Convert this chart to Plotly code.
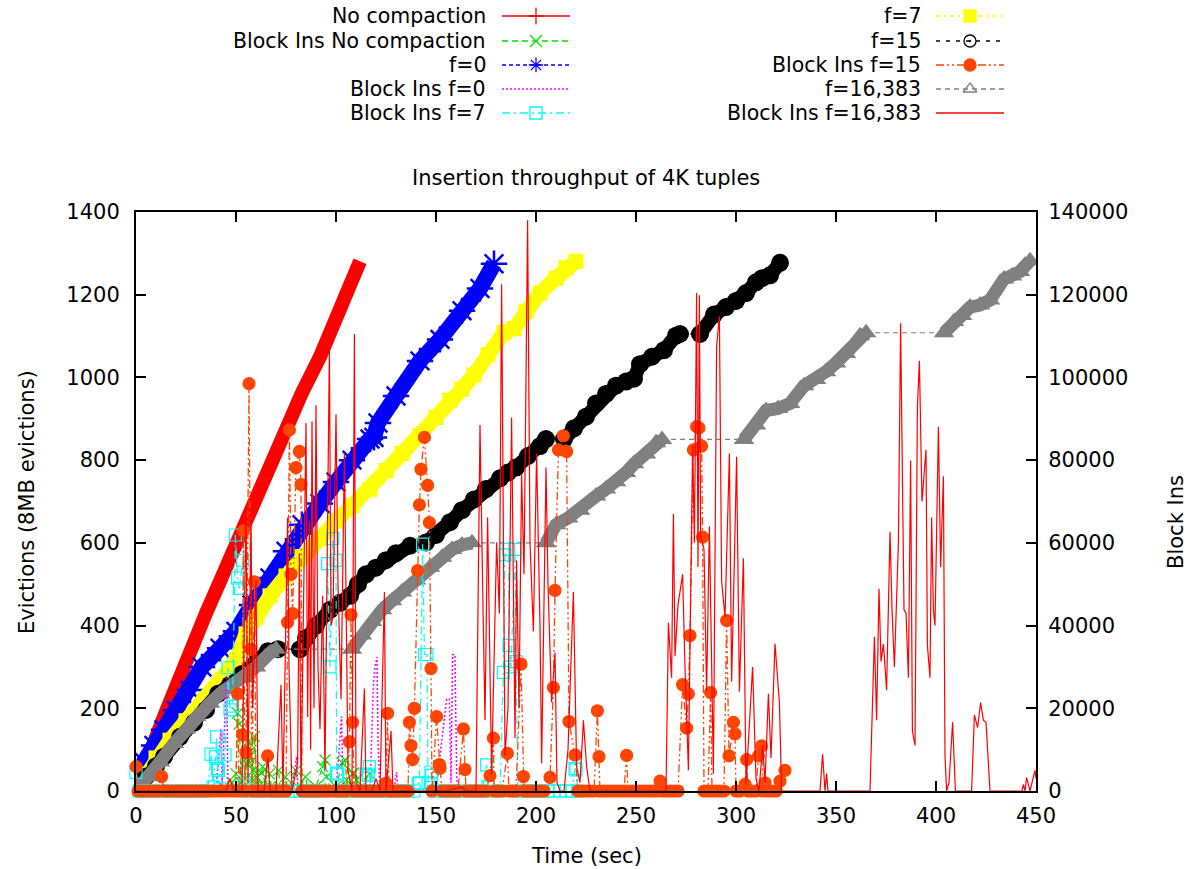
import plotly.graph_objects as go

# ---------------- data ----------------
# Evictions (left axis) : (time sec, evictions)
NO_COMPACTION = [(0, 5), (2, 35), (5, 70), (10, 130), (15, 192), (20, 255), (25, 317), (30, 375),
                 (35, 430), (42, 507), (50, 600), (57, 679), (62, 730), (67, 782), (75, 875),
                 (83, 963), (92, 1050), (100, 1135), (106, 1210), (112, 1281)]

F0 = [(0, 0), (4, 70), (9, 110), (14, 148), (20, 195), (27, 244), (33, 300), (42, 345), (50, 386),
      (58, 450), (67, 515), (75, 580), (83, 644), (92, 695), (100, 747), (108, 800), (117, 851),
      (119, 855), (121, 890), (130, 955), (142, 1040), (152, 1092), (163, 1161), (172, 1215), (179, 1275)]

F7 = [(0, 0), (5, 40), (10, 80), (17, 123), (25, 170), (34, 220), (42, 265), (50, 317), (55, 380),
      (60, 420), (67, 472), (75, 520), (83, 567), (92, 610), (100, 653), (108, 690), (117, 730),
      (125, 775), (133, 816), (142, 860), (150, 903), (157, 945), (163, 972), (169, 1006), (176, 1055),
      (184, 1109), (189, 1118), (195, 1160), (202, 1204), (210, 1240), (215, 1265), (220, 1281)]

F15 = [(0, 0), (5, 35), (10, 60), (14, 83), (22, 131), (29, 165), (35, 196), (41, 235), (47, 257),
       (53, 283), (60, 310), (66, 338), (71, 343), (None, None),
       (82, 343), (85, 370), (90, 400), (97, 438), (102, 455), (107, 472), (111, 500), (115, 524),
       (120, 540), (125, 558), (130, 575), (137, 593), (None, None),
       (145, 601), (150, 619), (157, 650), (163, 679), (169, 705), (175, 730), (182, 756), (186, 770),
       (190, 782), (196, 810), (202, 834), (205, 851), (None, None),
       (214, 851), (219, 877), (225, 905), (230, 937), (235, 960), (240, 980), (245, 990), (249, 997),
       (252, 1032), (258, 1050), (264, 1066), (270, 1101), (272, 1105), (None, None),
       (282, 1105), (289, 1152), (295, 1170), (300, 1185), (305, 1204), (310, 1230), (313, 1240),
       (317, 1247), (322, 1277)]

F16383 = [(0, 0), (3, 15), (7, 35), (12, 70), (19, 115), (25, 150), (30, 180), (37, 212), (42, 235),
          (47, 252), (55, 274), (60, 300), (67, 334), (70, 343), (None, None),
          (108, 343), (113, 377), (118, 410), (123, 438), (128, 460), (133, 481), (140, 510), (147, 541),
          (153, 565), (158, 584), (163, 595), (168, 600), (None, None),
          (205, 600), (210, 644), (216, 660), (222, 679), (230, 713), (235, 730), (240, 748), (245, 770),
          (249, 791), (255, 815), (260, 842), (263, 850), (None, None),
          (304, 850), (310, 885), (315, 920), (321, 925), (327, 937), (334, 980), (340, 995), (345, 1014),
          (350, 1035), (355, 1058), (362, 1101), (365, 1108), (None, None),
          (404, 1108), (409, 1135), (413, 1150), (417, 1170), (422, 1175), (427, 1187), (434, 1238),
          (438, 1245), (442, 1256), (447, 1282)]

# Block Ins (right axis) : (time sec, block ins)
BI_NO_COMPACTION = [(0, 0), (10, 0), (20, 0), (30, 0), (40, 0), (44, 1000), (46, 0), (48, 2000), (50, 4150),
                    (50.8, 18800), (51.7, 16200), (52.5, 2000), (53.7, 13100), (54.5, 3000), (55.3, 6700),
                    (56.7, 6700), (57, 11500), (58, 3000), (58.7, 5000), (59.2, 13200), (60.3, 3400), (61, 1000),
                    (62.8, 4300), (63.3, 5900), (64.5, 1000), (66.7, 4150), (68, 500), (71.3, 5000), (72, 1000),
                    (74.7, 3400), (76, 500), (80, 5000), (81, 1000), (84.7, 3400), (86, 500), (90, 1000),
                    (93.3, 5900), (94.5, 7500), (95.3, 3400), (97, 500), (100, 1000), (103.3, 6700),
                    (104.5, 7500), (105.3, 2700), (106, 1000), (108.3, 4150), (108.7, 4300), (110.3, 2700),
                    (112, 500), (116.7, 4150), (118, 0), (125, 0)]

BI_F0 = [(0, 0), (20, 0), (40, 0), (42.5, 15000), (43, 500), (44.8, 22700), (45.3, 27300), (46, 1000), (48, 0),
         (60, 0), (78, 0), (80.3, 8300), (81, 0), (100, 0), (102.8, 18000), (103.5, 0), (117, 0),
         (118.7, 26000), (119.5, 30000), (120.5, 32400), (121, 12000), (122, 0), (129, 0), (130.3, 4600),
         (131, 0), (150, 0), (155.3, 22200), (156.7, 22200), (157.5, 2000), (158.3, 33000), (159.5, 32900),
         (160.3, 4000), (161, 0), (180, 1000), (190, 0), (200, 0)]

BI_F7 = [(0, 4500), (1.5, 0), (3, 0), (6, 0), (9, 0), (12, 0), (15, 0), (18, 0), (21, 0), (24, 0), (27, 0),
         (30, 0), (33, 0), (36, 0), (37.5, 8900), (38.5, 1000), (39.8, 8300), (40.3, 13100), (40.8, 5400),
         (41.2, 5000), (42, 500), (44.5, 8700), (46, 29800), (47, 19600), (48.3, 20500), (49.7, 61900),
         (50.8, 51500), (51.7, 49000), (53.3, 55800), (54, 2000), (55, 0), (58, 0), (61, 0), (64, 0),
         (67, 0), (70, 0), (73, 0), (76, 0), (79, 0), (82, 0), (85, 0), (88, 0), (91, 0), (94, 0),
         (95.8, 55000), (97, 30000), (98.3, 61000), (100, 55800), (100.3, 4300), (100.8, 4100), (102, 0),
         (105, 0), (108, 0), (111, 0), (114, 0), (115, 4100), (116.2, 3800), (116.7, 5900), (118, 0),
         (121, 0), (124, 0), (127, 0), (130, 0), (133, 0), (136, 0), (139, 0), (141.2, 1800), (141.7, 2000),
         (143.3, 59700), (144.2, 33000), (145.5, 33000), (146, 2000), (147.5, 4600), (147.8, 3800),
         (149, 0), (152, 0), (155, 0), (158, 0), (161, 0), (164, 0), (167, 0), (170, 0), (173, 0),
         (175.3, 6300), (176, 1000), (179, 0), (182, 0), (183.7, 28700), (184.5, 57100), (186.2, 58400),
         (186.5, 35200), (187.5, 30000), (189.5, 58400), (190, 31300), (191, 0), (194, 0), (197, 0),
         (200, 0), (203, 0), (206, 0), (209, 0), (212, 0), (215, 0), (218, 0), (219.5, 5400), (220, 5100),
         (221, 0)]

BI_F15 = [(0, 5900), (1, 0), (3, 0), (5, 0), (7, 0), (9, 0), (11, 0), (12.8, 3500), (14, 0), (16, 0), (18, 0),
          (20, 0), (22, 0), (24, 0), (26, 0), (28, 0), (30, 0), (32, 0), (34, 0), (36, 0), (38, 0), (40, 0),
          (42, 0), (44, 0), (46, 0), (48, 0), (50, 0), (50.8, 23500), (51.5, 0), (53.3, 13600), (53.7, 62900),
          (54.5, 0), (55, 9300), (56.5, 98500), (57.5, 34300), (58, 0), (59.2, 50600), (60, 0), (62, 0),
          (64, 0), (65.8, 8500), (67, 0), (69, 0), (71, 0), (73, 0), (75, 0), (75.8, 40800), (76.7, 87300),
          (77.5, 52400), (78.3, 42900), (80, 78200), (81.7, 82100), (82.5, 74100), (83, 0), (85, 0), (87, 0),
          (89, 0), (91, 0), (93, 0), (95, 0), (97, 0), (99, 0), (101, 0), (103, 0), (105, 0), (106.7, 11900),
          (107.5, 42600), (108.3, 16600), (109, 0), (111, 0), (113, 0), (115, 0), (117, 0), (119, 0),
          (121, 0), (123, 0), (125, 1900), (125.8, 18800), (126.5, 0), (128, 0), (130, 0), (132, 0),
          (134, 0), (136, 0), (136.7, 16600), (137.5, 11000), (138.3, 7600), (139.2, 20000), (140.8, 53300),
          (141.7, 69200), (142.5, 77800), (144.2, 85500), (145.8, 73900), (146.7, 64900), (147.5, 29600),
          (148, 0), (150.3, 18000), (151.7, 6400), (152, 5500), (153, 0), (155, 0), (157, 0), (159, 0),
          (161, 0), (163.7, 15000), (164.5, 5200), (165, 0), (167, 0), (169, 0), (171, 0), (173, 0),
          (175, 0), (177, 3700), (178.7, 12800), (179, 0), (181, 0), (183, 0), (185.7, 9100), (186.5, 0),
          (188, 0), (190, 0), (192.5, 30700), (193.7, 3500), (194, 0), (196, 0), (198, 0), (200, 0),
          (202, 0), (204, 0), (207, 3300), (208.7, 25000), (209.5, 48500), (211.2, 82500), (213.7, 85900),
          (215.3, 82100), (216.5, 16800), (219.5, 8700), (221, 0), (223, 0), (225, 0), (227, 0), (229, 0),
          (230.7, 19400), (231.5, 8300), (232, 0), (234, 0), (236, 0), (238, 0), (240, 0), (242, 0),
          (244, 0), (245.3, 8600), (246, 0), (248, 0), (250, 0), (252, 0), (254, 0), (256, 0), (258, 0),
          (260, 0), (262, 2400), (263, 0), (265, 0), (267, 0), (269, 0), (271, 0), (273.3, 25700),
          (275.3, 15200), (276.2, 23500), (277, 37600), (278.7, 82500), (280.3, 88100), (281.5, 87800),
          (282.8, 83400), (283.3, 61400), (284, 0), (286, 0), (287.3, 23800), (288, 0), (290, 0), (292, 0),
          (294, 0), (295.3, 41200), (296.5, 8500), (298.7, 16600), (299.5, 13800), (300, 0), (302, 0),
          (304.5, 1600), (305.3, 7600), (306, 0), (308, 0), (310, 0), (311.2, 8500), (312.8, 10900),
          (313.5, 0), (314.5, 2000), (316, 0), (318, 0), (320, 0), (322, 2400), (324.5, 5000)]

BI_F16383 = [(0, 0), (5, 0), (10, 0), (15, 0), (20, 0), (25, 0), (30, 0), (35, 0), (40, 0), (45, 0), (47, 3000),
             (49, 0), (53, 0), (55, 69000), (56, 2000), (57.5, 67000), (58.3, 20000), (60, 51000), (61, 0),
             (64, 0), (66, 8000), (67, 0), (70, 0), (72.5, 25700), (73.5, 0), (75.8, 66100), (76.5, 30000),
             (78, 0), (80.8, 6700), (81.7, 57500), (82.5, 0), (85, 89000), (85.8, 17900), (86.7, 65300),
             (87.3, 10000), (88, 89400), (89, 20000), (90, 93300), (91, 30000), (92, 15000), (93.3, 47200),
             (94.5, 5000), (96.7, 107500), (97.5, 40000), (98.5, 42000), (100, 91100), (101, 50000),
             (102.5, 22200), (104.2, 81700), (105, 47000), (106, 5000), (108, 0), (109.2, 110500),
             (110, 2000), (112, 0), (114.2, 24800), (115, 0), (118, 0), (120, 3000), (122, 0),
             (124.2, 48100), (125, 0), (127.5, 14500), (128.5, 0), (135, 0), (145, 0), (155, 0),
             (163, 1000), (165, 0), (170, 0), (172, 88500), (173.7, 38600), (174.5, 17100), (175.8, 66100),
             (177, 30000), (177.8, 4150), (180.3, 60100), (181.7, 42900), (182.8, 122500), (184.5, 8500),
             (186, 20000), (187.8, 90300), (189.5, 12800), (190.3, 55800), (191.5, 20000), (192.8, 76500),
             (194, 52400), (195.8, 138000), (197, 60000), (198.7, 38600), (200.3, 81600), (202, 40000),
             (202.8, 6700), (205, 78200), (206, 50000), (207.8, 21400), (209.5, 33400), (210.5, 2000),
             (212, 0), (214, 0), (216, 10000), (218.7, 48100), (220.3, 5900), (222, 2000), (223.7, 17100),
             (225.3, 5900), (227, 0), (235, 0), (245, 0), (255, 0), (265, 0), (266.2, 40700),
             (267.8, 27400), (268.7, 67000), (269.5, 32600), (271, 45000), (273.3, 52400), (274.5, 30000),
             (276.2, 5000), (278.3, 83400), (279.2, 60000), (280.3, 120400), (281, 54100), (281.7, 119900),
             (282.3, 61800), (284, 58400), (285.3, 24000), (286.7, 64000), (288.7, 4200), (290.3, 107500),
             (291.7, 114800), (292.8, 50700), (294.5, 42000), (296.7, 81600), (297.8, 26500), (299, 51900),
             (300.3, 80800), (301.7, 24000), (303.7, 56300), (305, 1600), (306.5, 15000), (308.3, 30000),
             (310, 3000), (311.5, 0), (313.3, 11000), (314.5, 2000), (316.2, 23500), (317.5, 8000),
             (319.5, 35600), (321.7, 21400), (322.8, 0), (330, 0), (340, 0), (342, 0), (343.3, 8900),
             (344.5, 0), (345.3, 4200), (346, 0), (355, 0), (367, 0), (369.2, 37300), (370.3, 17100),
             (371.5, 48900), (372.5, 31300), (373.7, 35600), (375.3, 24400), (377, 62700), (378, 44000),
             (379.2, 30000), (381.2, 60100), (382.3, 113100), (383.3, 70000), (384, 43800), (385, 43000),
             (386.2, 27400), (387.3, 79900), (388.2, 14500), (389.5, 11000), (390.7, 92800), (391.7, 104000),
             (393, 70000), (395, 82500), (395.7, 35200), (397, 27400), (397.8, 66100), (398.7, 43800),
             (399.5, 40000), (401.2, 88100), (402.3, 54100), (403.7, 76100), (404.5, 8500), (405.3, 0),
             (406.5, 2000), (408.3, 16600), (409.7, 0), (417.8, 0), (419.2, 18400), (420.8, 15300),
             (422.3, 21400), (423.7, 17100), (425, 16600), (427, 0), (435, 0), (443, 0), (443.7, 1600),
             (444.5, 0), (445.3, 3300), (447, 0), (449.5, 5000), (450, 3000)]

X_TICKS = [0, 50, 100, 150, 200, 250, 300, 350, 400, 450]
Y_TICKS = [0, 200, 400, 600, 800, 1000, 1200, 1400]
Y2_TICKS = [0, 20000, 40000, 60000, 80000, 100000, 120000, 140000]

TITLE = "Insertion throughput of 4K tuples"
X_LABEL = "Time (sec)"
Y_LABEL = "Evictions (8MB evictions)"
Y2_LABEL = "Block Ins"

# ---------------- styling / layout constants ----------------
W, H = 1192, 869
PL, PR, PT, PB = 136, 1036, 212, 791
FONT = "DejaVu Sans, Liberation Sans, Arial, sans-serif"
FS = 21
FS_KEY = 20.5

RED, GREEN, BLUE, MAGENTA, CYAN = "#ff0000", "#00e000", "#0000ff", "#ff00ff", "#00ffff"
YELLOW, BLACK, ORANGE, GRAY = "#ffff00", "#000000", "#ff4500", "#808080"


def xy(pairs):
    return [p[0] for p in pairs], [p[1] for p in pairs]


fig = go.Figure()


def band(pairs, color, width, symbol=None, msize=0, conn_dash="4px,4px", mline=0):
    # thin dashed connector across gaps in the data
    ct, cv = [], []
    for i, p in enumerate(pairs):
        if p[0] is None:
            ct += [pairs[i - 1][0], pairs[i + 1][0], None]
            cv += [pairs[i - 1][1], pairs[i + 1][1], None]
    if ct:
        fig.add_trace(go.Scatter(x=ct, y=cv, mode="lines", xaxis="x", yaxis="y",
                                 line=dict(color=color, width=1.2, dash=conn_dash),
                                 hoverinfo="skip", showlegend=False))
    t, v = xy(pairs)
    fig.add_trace(go.Scatter(x=t, y=v, mode="lines+markers" if symbol else "lines",
                             xaxis="x", yaxis="y", connectgaps=False,
                             line=dict(color=color, width=width),
                             marker=dict(symbol=symbol or "circle", size=msize, color=color,
                                         line=dict(width=mline, color=color)),
                             showlegend=False))


def block(pairs, color, dash, width=1.2, symbol=None, msize=0, clip=True):
    t, v = xy(pairs)
    mk = dict(symbol=symbol or "circle", size=msize, color=color, line=dict(width=1.2, color=color))
    fig.add_trace(go.Scatter(x=t, y=v, mode="lines+markers" if symbol else "lines",
                             xaxis="x", yaxis="y2", cliponaxis=clip,
                             line=dict(color=color, width=width, dash=dash),
                             marker=mk, showlegend=False))


# plotting order as in the original
band(NO_COMPACTION, RED, 14)
block(BI_NO_COMPACTION, GREEN, "6px,4px", symbol="x-thin-open", msize=11)
band(F0, BLUE, 16, symbol="asterisk-open", msize=22, mline=2.5)
block(BI_F0, MAGENTA, "2px,2px", width=1.5)
block(BI_F7, CYAN, "8px,4px,2px,4px", symbol="square-open", msize=12, clip=False)
band(F7, YELLOW, 15, symbol="square", msize=15, conn_dash="4px,4px,2px,4px")
band(F15, BLACK, 14, symbol="circle", msize=18, conn_dash="4px,6px")
block(BI_F15, ORANGE, "8px,3px,2px,3px,2px,3px", width=1.3, symbol="circle", msize=12, clip=False)
band(F16383, GRAY, 13, symbol="triangle-up", msize=18, conn_dash="5px,4px")
block(BI_F16383, RED, "solid", width=1.2)

# ---------------- key (gnuplot style: text right aligned, sample to the right) --------------
KEY = [
    ("No compaction", RED, "solid", "cross-thin-open"),
    ("Block Ins No compaction", GREEN, "6px,4px", "x-thin-open"),
    ("f=0", BLUE, "4px,3px", "asterisk-open"),
    ("Block Ins f=0", MAGENTA, "2px,2px", None),
    ("Block Ins f=7", CYAN, "8px,4px,2px,4px", "square-open"),
    ("f=7", YELLOW, "4px,4px,2px,4px", "square"),
    ("f=15", BLACK, "4px,6px", "circle-open-dot"),
    ("Block Ins f=15", ORANGE, "8px,3px,2px,3px,2px,3px", "circle"),
    ("f=16,383", GRAY, "5px,4px", "triangle-up-open"),
    ("Block Ins f=16,383", RED, "solid", None),
]
KEY_ROWS = [16, 41, 65, 89, 113]
KEY_COLS = [(487, 502, 570), (922, 936, 1004)]

annotations = []
for k, (label, color, dash, sym) in enumerate(KEY):
    col, row = divmod(k, 5)
    tx, x0, x1 = KEY_COLS[col]
    yy = KEY_ROWS[row]
    fig.add_trace(go.Scatter(x=[x0, x1], y=[yy, yy], mode="lines", xaxis="x3", yaxis="y3",
                             line=dict(color=color, width=1.3, dash=dash),
                             hoverinfo="skip", showlegend=False))
    if sym:
        fig.add_trace(go.Scatter(x=[(x0 + x1) / 2], y=[yy], mode="markers", xaxis="x3", yaxis="y3",
                                 marker=dict(symbol=sym, size=12, color=color,
                                             line=dict(width=1.3, color=color)),
                                 hoverinfo="skip", showlegend=False))
    annotations.append(dict(x=tx / W, y=1 - yy / H, xref="paper", yref="paper", text=label,
                            showarrow=False, xanchor="right", yanchor="middle",
                            borderpad=0, font=dict(family=FONT, size=FS_KEY, color="black")))

annotations += [
    dict(x=(PL + PR) / 2 / W, y=1 - 178 / H, xref="paper", yref="paper", text=TITLE, showarrow=False,
         xanchor="center", yanchor="middle", font=dict(family=FONT, size=FS, color="black")),
    dict(x=(PL + PR) / 2 / W, y=1 - 856 / H, xref="paper", yref="paper", text=X_LABEL, showarrow=False,
         xanchor="center", yanchor="middle", font=dict(family=FONT, size=FS, color="black")),
    dict(x=27 / W, y=1 - 502 / H, xref="paper", yref="paper", text=Y_LABEL, showarrow=False,
         textangle=-90, xanchor="center", yanchor="middle", font=dict(family=FONT, size=FS, color="black")),
    dict(x=1176 / W, y=1 - 522 / H, xref="paper", yref="paper", text=Y2_LABEL, showarrow=False,
         textangle=-90, xanchor="center", yanchor="middle", borderpad=0,
         font=dict(family=FONT, size=FS, color="black")),
]

axis_common = dict(showgrid=False, zeroline=False, showline=True, linecolor="black", linewidth=2,
                   ticks="inside", ticklen=10, tickwidth=1.5, tickcolor="black", automargin=False,
                   tickfont=dict(family=FONT, size=FS, color="black"), fixedrange=True)

fig.update_layout(
    width=W, height=H, margin=dict(l=0, r=0, t=0, b=0, pad=0, autoexpand=False),
    paper_bgcolor="white", plot_bgcolor="rgba(0,0,0,0)", showlegend=False,
    xaxis=dict(domain=[PL / W, PR / W], range=[0, 450], tickvals=X_TICKS, mirror="ticks",
               anchor="y", ticklabelstandoff=5, **axis_common),
    yaxis=dict(domain=[1 - PB / H, 1 - PT / H], range=[0, 1400], tickvals=Y_TICKS,
               anchor="x", ticklabelstandoff=10, **axis_common),
    yaxis2=dict(overlaying="y", side="right", range=[0, 140000], tickvals=Y2_TICKS, tickformat="d",
                anchor="x", ticklabelstandoff=6, **axis_common),
    xaxis3=dict(domain=[0, 1], range=[0, W], visible=False, anchor="y3", fixedrange=True),
    yaxis3=dict(domain=[0, 1], range=[H, 0], visible=False, anchor="x3", fixedrange=True),
    annotations=annotations,
)

fig.write_html("out.html", config={"displayModeBar": False},
               post_script="document.body.style.margin='0px';")
